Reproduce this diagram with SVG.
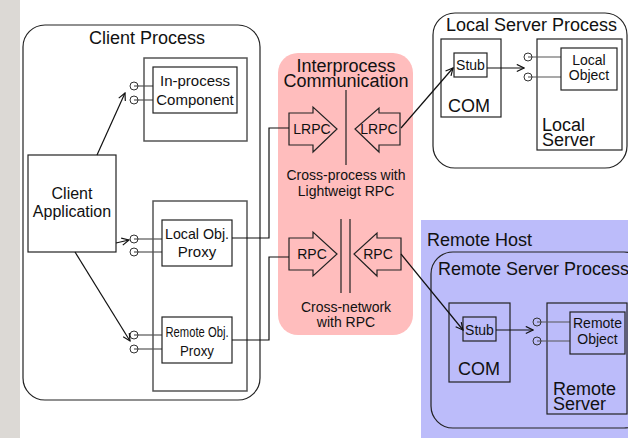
<svg xmlns="http://www.w3.org/2000/svg" width="628" height="438" viewBox="0 0 628 438">
<defs>
<style>
text{font-family:"Liberation Sans",Arial,sans-serif;fill:#111;}
.t18{font-size:18px;}
.t16{font-size:16px;}
.t15{font-size:15px;}
.t14{font-size:14px;}
.mid{text-anchor:middle;}
.box{fill:#fff;stroke:#222;stroke-width:1.2;}
.nobox{fill:none;stroke:#222;stroke-width:1.2;}
.cont{fill:none;stroke:#555;stroke-width:1.5;}
.proc{fill:none;stroke:#222;stroke-width:1.2;}
.lol{fill:none;stroke:#333;stroke-width:1;}
.lolline{stroke:#555;stroke-width:1.2;}
.conn{fill:none;stroke:#111;stroke-width:1.2;}
.blk{fill:none;stroke:#222;stroke-width:1.2;}
</style>
<marker id="arr" viewBox="0 0 10 10" refX="9" refY="5" markerWidth="9" markerHeight="9" orient="auto" markerUnits="userSpaceOnUse">
<path d="M1,1 L9,5 L1,9" fill="none" stroke="#111" stroke-width="1.3"/>
</marker>
</defs>
<rect x="0" y="0" width="628" height="438" fill="#fff"/>
<rect x="0" y="0" width="20" height="438" fill="#dcd9d5"/>

<g id="client-process">
<rect class="proc" x="23" y="25" width="237" height="375" rx="22"/>
<text class="t18 mid" x="147" y="44">Client Process</text>
</g>

<g id="inprocess-container">
<rect class="cont" x="144" y="58" width="103" height="83"/>
</g>
<g id="inprocess-component">
<line class="lolline" x1="134" y1="86" x2="153" y2="86"/>
<line class="lolline" x1="134" y1="100" x2="153" y2="100"/>
<circle class="lol" cx="134" cy="86" r="4"/>
<circle class="lol" cx="134" cy="100" r="4"/>
<rect class="box" x="153" y="67" width="84" height="46"/>
<text class="t15 mid" x="195" y="86">In-process</text>
<text class="t15 mid" x="195" y="105">Component</text>
</g>

<g id="client-application">
<rect class="box" x="28" y="155" width="88" height="97"/>
<text class="t16 mid" x="72" y="199">Client</text>
<text class="t16 mid" x="72" y="217">Application</text>
</g>

<g id="proxy-container">
<rect class="cont" x="153" y="201" width="94" height="190"/>
</g>
<g id="local-obj-proxy">
<line class="lolline" x1="134" y1="239" x2="162" y2="239"/>
<line class="lolline" x1="134" y1="252" x2="162" y2="252"/>
<circle class="lol" cx="134" cy="239" r="4"/>
<circle class="lol" cx="134" cy="252" r="4"/>
<rect class="box" x="162" y="220" width="70" height="46"/>
<text class="t15 mid" x="197" y="239" textLength="64" lengthAdjust="spacingAndGlyphs">Local Obj.</text>
<text class="t15 mid" x="197" y="257">Proxy</text>
</g>
<g id="remote-obj-proxy">
<line class="lolline" x1="134" y1="335" x2="162" y2="335"/>
<line class="lolline" x1="134" y1="349" x2="162" y2="349"/>
<circle class="lol" cx="134" cy="335" r="4"/>
<circle class="lol" cx="134" cy="349" r="4"/>
<rect class="box" x="162" y="317" width="70" height="46"/>
<text class="t15 mid" x="197" y="337" textLength="63" lengthAdjust="spacingAndGlyphs">Remote Obj.</text>
<text class="t15 mid" x="197" y="356" textLength="34" lengthAdjust="spacingAndGlyphs">Proxy</text>
</g>

<g id="ipc">
<rect x="278" y="53" width="135" height="282" rx="20" fill="#ffbdbd"/>
<text class="t18 mid" x="346" y="72">Interprocess</text>
<text class="t18 mid" x="346" y="87">Communication</text>
<line x1="346" y1="90" x2="346" y2="165" stroke="#222" stroke-width="1.2"/>
<text class="t14 mid" x="346" y="180">Cross-process with</text>
<text class="t14 mid" x="346" y="196">Lightweigt RPC</text>
<line x1="341" y1="219" x2="341" y2="293" stroke="#222" stroke-width="1.2"/>
<line x1="350" y1="219" x2="350" y2="293" stroke="#222" stroke-width="1.2"/>
<text class="t14 mid" x="346" y="312">Cross-network</text>
<text class="t14 mid" x="346" y="327">with RPC</text>
</g>
<g id="lrpc-client">
<path class="blk" d="M289,113 H313 V107 L337,129 L313,152 V145 H289 Z"/>
<text class="t14 mid" x="312" y="134">LRPC</text>
</g>
<g id="lrpc-server">
<path class="blk" d="M400,113 H379 V108 L355,129 L379,152 V145 H400 Z"/>
<text class="t14 mid" x="379" y="134">LRPC</text>
</g>
<g id="rpc-client">
<path class="blk" d="M289,238 H313 V232 L337,254 L313,276 V270 H289 Z"/>
<text class="t14 mid" x="312" y="259">RPC</text>
</g>
<g id="rpc-server">
<path class="blk" d="M401,238 H377 V233 L354,254 L377,276 V270 H401 Z"/>
<text class="t14 mid" x="378" y="259">RPC</text>
</g>

<g id="local-server-process">
<rect class="proc" x="433" y="13" width="194" height="155" rx="22" fill="#fff"/>
<text class="t18" x="446" y="31">Local Server Process</text>
</g>
<g id="local-com">
<rect class="nobox" x="441" y="39" width="60" height="78"/>
<text class="t18" x="448" y="112">COM</text>
</g>
<g id="local-stub">
<rect class="box" x="454" y="53" width="33" height="24"/>
<text class="t14 mid" x="470.5" y="70">Stub</text>
</g>
<g id="local-server">
<rect class="nobox" x="537" y="39" width="85" height="111"/>
<text class="t18" x="542" y="131">Local</text>
<text class="t18" x="542" y="146">Server</text>
</g>
<g id="local-object">
<line class="lolline" x1="528" y1="57" x2="561" y2="57"/>
<line class="lolline" x1="528" y1="77" x2="561" y2="77"/>
<circle class="lol" cx="528" cy="57" r="4"/>
<circle class="lol" cx="528" cy="77" r="4"/>
<rect class="box" x="561" y="48" width="56" height="42"/>
<text class="t14 mid" x="589" y="65">Local</text>
<text class="t14 mid" x="589" y="80">Object</text>
</g>

<g id="remote-host">
<rect x="421" y="220" width="207" height="218" fill="#bcbcfa"/>
<text class="t18" x="427" y="246">Remote Host</text>
</g>
<g id="remote-server-process">
<rect class="proc" x="431" y="252" width="215" height="176" rx="22"/>
<text class="t18" x="438" y="275">Remote Server Process</text>
</g>
<g id="remote-com">
<rect class="nobox" x="449" y="303" width="61" height="79"/>
<text class="t18" x="458" y="375">COM</text>
</g>
<g id="remote-stub">
<rect class="nobox" x="463" y="317" width="33" height="24"/>
<text class="t14 mid" x="479.5" y="335">Stub</text>
</g>
<g id="remote-server">
<rect class="nobox" x="547" y="303" width="80" height="111"/>
<text class="t18" x="553" y="395">Remote</text>
<text class="t18" x="553" y="410">Server</text>
</g>
<g id="remote-object">
<line class="lolline" x1="537" y1="322" x2="570" y2="322"/>
<line class="lolline" x1="537" y1="341" x2="570" y2="341"/>
<circle class="lol" cx="537" cy="322" r="4"/>
<circle class="lol" cx="537" cy="341" r="4"/>
<rect class="nobox" x="570" y="312" width="55" height="42"/>
<text class="t14 mid" x="597.5" y="328">Remote</text>
<text class="t14 mid" x="597.5" y="344">Object</text>
</g>

<g id="connectors">
<line class="conn" x1="97" y1="155" x2="125" y2="93" marker-end="url(#arr)"/>
<line class="conn" x1="116" y1="243" x2="129" y2="240" marker-end="url(#arr)"/>
<line class="conn" x1="75" y1="252" x2="130" y2="341" marker-end="url(#arr)"/>
<polyline class="conn" points="232,238 269,238 269,128 289,128"/>
<polyline class="conn" points="232,340 269,340 269,257 289,257"/>
<line class="conn" x1="401" y1="128" x2="453" y2="68" marker-end="url(#arr)"/>
<line class="conn" x1="401" y1="254" x2="463" y2="330" marker-end="url(#arr)"/>
<line class="conn" x1="487" y1="68" x2="524" y2="68" marker-end="url(#arr)"/>
<line class="conn" x1="496" y1="330" x2="533" y2="330" marker-end="url(#arr)"/>
</g>
</svg>
